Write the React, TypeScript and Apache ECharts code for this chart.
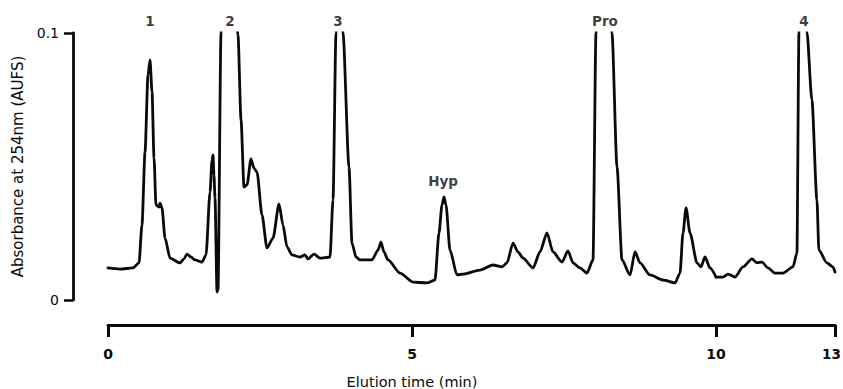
import React, { useEffect, useRef } from "react";
import * as echarts from "echarts";

// Elution time (min) and absorbance (AUFS)
const elutionTime = [
  0, 0.197, 0.411, 0.51, 0.559, 0.609, 0.658, 0.691, 0.724, 0.757, 0.789, 0.839, 0.855, 0.888, 0.938,
  1.02, 1.184, 1.25, 1.299, 1.365, 1.431, 1.546, 1.612, 1.678, 1.711, 1.727, 1.743, 1.76, 1.793, 1.809,
  1.859, 1.99, 2.138, 2.188, 2.237, 2.286, 2.352, 2.401, 2.451, 2.533, 2.615, 2.714, 2.813, 2.878, 2.944,
  3.026, 3.158, 3.24, 3.289, 3.388, 3.487, 3.651, 3.701, 3.75, 3.808, 3.865, 3.964, 4.013, 4.079, 4.145,
  4.342, 4.441, 4.49, 4.539, 4.605, 4.803, 5.016, 5.247, 5.378, 5.444, 5.493, 5.526, 5.559, 5.625, 5.74,
  5.839, 6.118, 6.332, 6.48, 6.562, 6.661, 6.743, 6.826, 6.99, 7.105, 7.22, 7.319, 7.467, 7.566, 7.648,
  7.763, 7.878, 7.977, 8.026, 8.158, 8.289, 8.372, 8.454, 8.586, 8.668, 8.75, 8.914, 9.128, 9.326, 9.408,
  9.457, 9.507, 9.572, 9.688, 9.753, 9.819, 9.901, 10.0,
  10.176, 10.302, 10.479, 10.68, 10.907, 11.033, 11.159, 11.31, 11.486, 11.688, 11.94, 12.04, 12.091,
  12.191, 12.292, 12.418, 12.544, 12.594, 12.796, 12.947, 13.0,
];
const absorbance = [
  0.012, 0.0116, 0.012, 0.0139, 0.0281, 0.0554, 0.0843, 0.0899, 0.0779, 0.0532, 0.0356, 0.0348, 0.0363, 0.0345, 0.0232,
  0.0157, 0.0139, 0.0154, 0.0172, 0.0161, 0.015, 0.0142, 0.0169, 0.0404, 0.0524, 0.0543, 0.0468, 0.0382, 0.003, 0.0037,
  0.1, 0.22, 0.0993, 0.0674, 0.0423, 0.0431, 0.0528, 0.0494, 0.0479, 0.0318, 0.0195, 0.0232, 0.036, 0.0281, 0.0199,
  0.0169, 0.0161, 0.0169, 0.0154, 0.0172, 0.0157, 0.0161, 0.0375, 0.1, 0.2, 0.1, 0.0498, 0.0213, 0.0161, 0.015,
  0.015, 0.0187, 0.0217, 0.018, 0.015, 0.0101, 0.0067, 0.0064, 0.0075, 0.0251, 0.0356, 0.0386, 0.0356, 0.0187, 0.0094,
  0.0097, 0.0112, 0.0131, 0.0124, 0.0139, 0.0213, 0.018, 0.0157, 0.012, 0.018, 0.0251, 0.018, 0.0142, 0.0184, 0.0139,
  0.012, 0.0101, 0.015, 0.1, 0.22, 0.1, 0.0498, 0.015, 0.0094, 0.018, 0.0139, 0.0094, 0.0075, 0.0064, 0.0101,
  0.0251, 0.0345, 0.0251, 0.0139, 0.0124, 0.0161, 0.012, 0.0086,
  0.0086, 0.0097, 0.0086, 0.0124, 0.0154, 0.0139, 0.0142, 0.012, 0.0101, 0.0101, 0.0124, 0.0176, 0.1,
  0.22, 0.1004, 0.0749, 0.0375, 0.0187, 0.0139, 0.0124, 0.0105,
];

// Peak annotations
const peakNames = ["1", "2", "3", "Hyp", "Pro", "4"];
const peakTimes = [0.691, 2.007, 3.783, 5.51, 8.174, 12.22];
const peakLabelLevels = [0.1045, 0.1045, 0.1045, 0.0446, 0.1045, 0.1045];

// Axis ticks (the time scale bar is drawn in two sections: 0–10 and 10–13 min)
const xTicksMain = [0, 5, 10];
const xTicksTail = [13];
const yTicks = [0, 0.1];
const splitTime = 10;

const INK = "#0a0a0a";
const FONT = "DejaVu Sans";

export default function App() {
  const ref = useRef<HTMLDivElement>(null);

  useEffect(() => {
    if (!ref.current) return;
    const chart = echarts.init(ref.current, null, { renderer: "svg" });

    const pts = elutionTime.map((t, i) => [t, absorbance[i]]);
    const mainPts = pts.filter((p) => p[0] <= splitTime);
    const tailPts = pts.filter((p) => p[0] >= splitTime);
    const labelPts = peakNames.map((n, i) => ({ name: n, value: [peakTimes[i], peakLabelLevels[i]] }));
    const labelMain = labelPts.filter((p) => p.value[0] <= splitTime);
    const labelTail = labelPts.filter((p) => p.value[0] > splitTime);

    const lineStyle = { color: INK, width: 2.8, join: "round" as const, cap: "round" as const };
    const tickLabel = { color: INK, fontFamily: FONT, fontSize: 14, fontWeight: "bold" as const };
    const peakLabel = {
      show: true,
      position: "inside" as const,
      formatter: "{b}",
      color: INK,
      fontFamily: FONT,
      fontSize: 13.5,
      fontWeight: "bold" as const,
    };
    const axisLineStyle = { color: INK, width: 2.8 };

    chart.setOption({
      animation: false,
      backgroundColor: "#fff",
      grid: [
        { left: 108, top: 33, width: 608, height: 267, outerBoundsMode: "none", containLabel: false },
        { left: 716, top: 33, width: 119, height: 267, outerBoundsMode: "none", containLabel: false },
      ],
      xAxis: [
        {
          gridIndex: 0,
          type: "value",
          min: 0,
          max: 10,
          interval: 5,
          offset: 25,
          axisLine: { show: true, onZero: false, lineStyle: axisLineStyle },
          axisTick: { show: true, length: 12, customValues: xTicksMain, lineStyle: { color: INK, width: 3 } },
          axisLabel: { ...tickLabel, margin: 22, customValues: xTicksMain },
          splitLine: { show: false },
          name: "Elution time (min)",
          nameLocation: "middle",
          nameGap: 49,
          nameTextStyle: { color: INK, fontFamily: FONT, fontSize: 14.5 },
        },
        {
          gridIndex: 1,
          type: "value",
          min: 10,
          max: 13,
          offset: 25,
          axisLine: { show: true, onZero: false, lineStyle: axisLineStyle },
          axisTick: { show: true, length: 12, customValues: xTicksTail, lineStyle: { color: INK, width: 3 } },
          axisLabel: { ...tickLabel, fontSize: 13.5, margin: 22, customValues: xTicksTail, padding: [0, 7, 0, 0] },
          splitLine: { show: false },
        },
      ],
      yAxis: [
        {
          gridIndex: 0,
          type: "value",
          min: 0,
          max: 0.1,
          interval: 0.1,
          offset: 35,
          axisLine: { show: true, onZero: false, lineStyle: axisLineStyle },
          axisTick: { show: true, length: 9, customValues: yTicks, lineStyle: { color: INK, width: 2.5 } },
          axisLabel: {
            ...tickLabel,
            fontWeight: "normal",
            margin: 14,
            customValues: yTicks,
            formatter: (v: number) => String(v),
          },
          splitLine: { show: false },
          name: "Absorbance at 254nm (AUFS)",
          nameLocation: "middle",
          nameGap: 48,
          nameRotate: 90,
          nameTextStyle: { color: INK, fontFamily: FONT, fontSize: 15 },
        },
        { gridIndex: 1, type: "value", min: 0, max: 0.1, show: false },
      ],
      series: [
        {
          type: "line",
          xAxisIndex: 0,
          yAxisIndex: 0,
          data: mainPts,
          symbol: "none",
          showSymbol: false,
          smooth: 0.25,
          smoothMonotone: "x",
          clip: true,
          lineStyle,
        },
        {
          type: "line",
          xAxisIndex: 1,
          yAxisIndex: 1,
          data: tailPts,
          symbol: "none",
          showSymbol: false,
          smooth: 0.25,
          smoothMonotone: "x",
          clip: true,
          lineStyle,
        },
        {
          type: "scatter",
          xAxisIndex: 0,
          yAxisIndex: 0,
          data: labelMain,
          symbolSize: 0,
          clip: false,
          silent: true,
          label: peakLabel,
        },
        {
          type: "scatter",
          xAxisIndex: 1,
          yAxisIndex: 1,
          data: labelTail,
          symbolSize: 0,
          clip: false,
          silent: true,
          label: peakLabel,
        },
      ],
    });

    return () => chart.dispose();
  }, []);

  return (
    <div
      ref={ref}
      style={{ position: "fixed", left: 0, top: 0, width: 843, height: 389, background: "#fff" }}
    />
  );
}
